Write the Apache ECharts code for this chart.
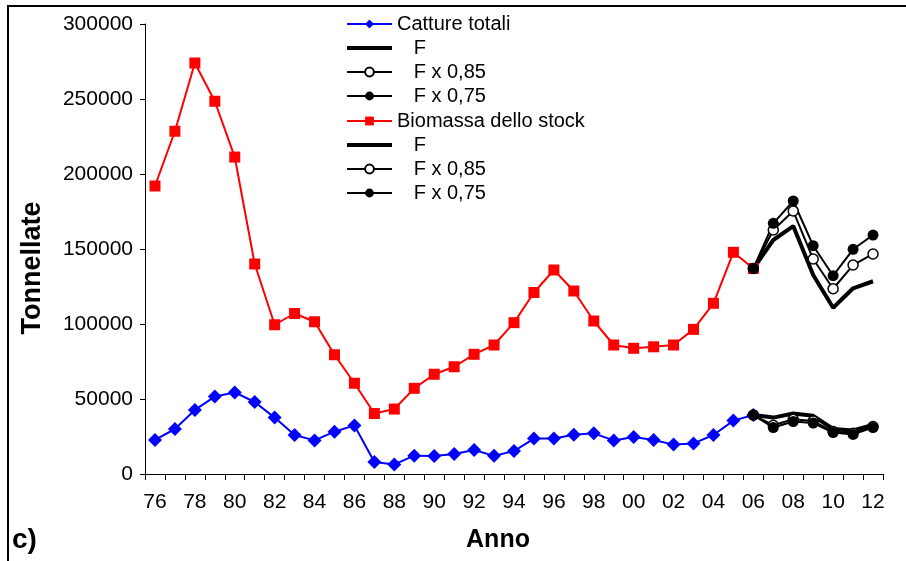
<!DOCTYPE html>
<html>
<head>
<meta charset="utf-8">
<script src="https://cdn.jsdelivr.net/npm/echarts@6/dist/echarts.min.js"></script>
<style>
  html, body { margin: 0; padding: 0; background: #fff; }
  #chart { width: 906px; height: 561px; }
</style>
</head>
<body>
<div id="chart"></div>
<script>
// Years 1976-2012, shown as two-digit labels
const years = ['76','77','78','79','80','81','82','83','84','85','86','87','88','89','90',
  '91','92','93','94','95','96','97','98','99','00','01','02','03','04','05','06',
  '07','08','09','10','11','12'];

// Observed series, 1976-2006 (tonnes)
const catture = [22700, 30000, 42700, 51600, 54400, 48000, 37600, 26000, 22400, 28200,
  32400, 8000, 6400, 12200, 12000, 13300, 16000, 12100, 15300, 23600,
  23600, 26200, 27100, 22400, 24700, 22700, 19600, 20400, 26000, 35600, 39300];
const biomassa = [192000, 228500, 274000, 248500, 211300, 140000, 99500, 107000, 101500, 79500,
  60500, 40300, 43300, 57100, 66500, 71500, 79800, 86000, 100900, 121000,
  136000, 122000, 102000, 86000, 83800, 84800, 86000, 96400, 113800, 147800, 137000];

// Projections 2006-2012 under three fishing mortality scenarios
const catF    = [39300, 37600, 40300, 38800, 30000, 29000, 32800];
const catF085 = [39300, 32500, 36500, 35300, 28300, 27200, 31600];
const catF075 = [39300, 31000, 35000, 34000, 27600, 26400, 31000];
const bioF    = [137000, 156000, 165300, 132700, 110800, 123800, 128500];
const bioF085 = [137000, 162700, 175300, 143300, 123500, 139300, 146700];
const bioF075 = [137000, 167100, 182000, 152200, 132200, 149800, 159300];

const projStart = years.indexOf('06');
const pad = arr => years.map((_, i) => (i >= projStart ? arr[i - projStart] : null));

const FONT = 'Liberation Sans, Arial, sans-serif';

function projSeries(name, values, kind) {
  const s = {
    name: name,
    type: 'line',
    data: pad(values),
    showAllSymbol: true,
    connectNulls: false,
    lineStyle: { color: '#000', width: 2 },
    emphasis: { disabled: true }
  };
  if (kind === 'F') {
    s.symbol = 'none';
    s.lineStyle.width = 4;
    s.itemStyle = { color: '#000' };
  } else if (kind === 'open') {
    s.symbol = 'circle';
    s.symbolSize = 10;
    s.itemStyle = { color: '#fff', borderColor: '#000', borderWidth: 1.5 };
  } else {
    s.symbol = 'circle';
    s.symbolSize = 11;
    s.itemStyle = { color: '#000', borderColor: '#000', borderWidth: 0 };
  }
  return s;
}

// Legend entries: the plain F scenario shows only a thick line
const scenarioItems = [
  { name: 'F', itemStyle: { opacity: 0 }, lineStyle: { width: 4, color: '#000' } },
  { name: 'F x 0,85' },
  { name: 'F x 0,75' }
];

const legendBase = {
  orient: 'vertical',
  left: 345,
  itemWidth: 45,
  itemHeight: 11,
  itemGap: 4,
  padding: 0,
  selectedMode: false,
  textStyle: { fontFamily: FONT, fontSize: 20, color: '#000', lineHeight: 20 },
  formatter: name => (name.charAt(0) === 'F' ? '   ' + name : name)
};

const chart = echarts.init(document.getElementById('chart'), null, { renderer: 'canvas' });
chart.setOption({
  animation: false,
  backgroundColor: '#fff',
  grid: { left: 145, right: 23, top: 24, bottom: 87 },
  legend: [
    Object.assign({}, legendBase, { top: 14, data: [{ name: 'Catture totali' }].concat(scenarioItems) }),
    Object.assign({}, legendBase, { top: 111, data: [{ name: 'Biomassa dello stock' }].concat(scenarioItems) })
  ],
  xAxis: {
    type: 'category',
    data: years,
    boundaryGap: true,
    axisLine: { lineStyle: { color: '#000', width: 1 } },
    axisTick: { show: true, interval: 0, length: 6, lineStyle: { color: '#000' } },
    axisLabel: { interval: 1, margin: 18, color: '#000', fontFamily: FONT, fontSize: 21 },
    splitLine: { show: false }
  },
  yAxis: {
    type: 'value',
    min: 0,
    max: 300000,
    interval: 50000,
    axisLine: { show: true, lineStyle: { color: '#000', width: 1 } },
    axisTick: { show: true, length: 5, lineStyle: { color: '#000' } },
    axisLabel: { margin: 12, color: '#000', fontFamily: FONT, fontSize: 21,
      formatter: v => String(v) },
    splitLine: { show: false }
  },
  graphic: [
    { type: 'rect', shape: { x: 8, y: 6, width: 1200, height: 1200 },
      style: { fill: 'none', stroke: '#000', lineWidth: 2 }, silent: true },
    { type: 'text', x: 33, y: 268, rotation: Math.PI / 2,
      style: { text: 'Tonnellate', fontFamily: FONT, fontWeight: 'bold', fontSize: 27,
        fill: '#000', align: 'center', verticalAlign: 'middle' } },
    { type: 'text', x: 498, y: 540,
      style: { text: 'Anno', fontFamily: FONT, fontWeight: 'bold', fontSize: 25,
        fill: '#000', align: 'center', verticalAlign: 'middle' } },
    { type: 'text', x: 12, y: 540,
      style: { text: 'c)', fontFamily: FONT, fontWeight: 'bold', fontSize: 28,
        fill: '#000', align: 'left', verticalAlign: 'middle' } }
  ],
  series: [
    {
      name: 'Catture totali', type: 'line', data: catture,
      symbol: 'diamond', symbolSize: 14, showAllSymbol: true,
      lineStyle: { color: '#0000ff', width: 2 },
      itemStyle: { color: '#0000ff' },
      emphasis: { disabled: true }
    },
    {
      name: 'Biomassa dello stock', type: 'line', data: biomassa,
      symbol: 'rect', symbolSize: 11, showAllSymbol: true,
      lineStyle: { color: '#ff0000', width: 2 },
      itemStyle: { color: '#ff0000' },
      emphasis: { disabled: true }
    },
    projSeries('F', bioF, 'F'),
    projSeries('F x 0,85', bioF085, 'open'),
    projSeries('F x 0,75', bioF075, 'filled'),
    projSeries('F', catF, 'F'),
    projSeries('F x 0,85', catF085, 'open'),
    projSeries('F x 0,75', catF075, 'filled')
  ]
});
</script>
</body>
</html>
